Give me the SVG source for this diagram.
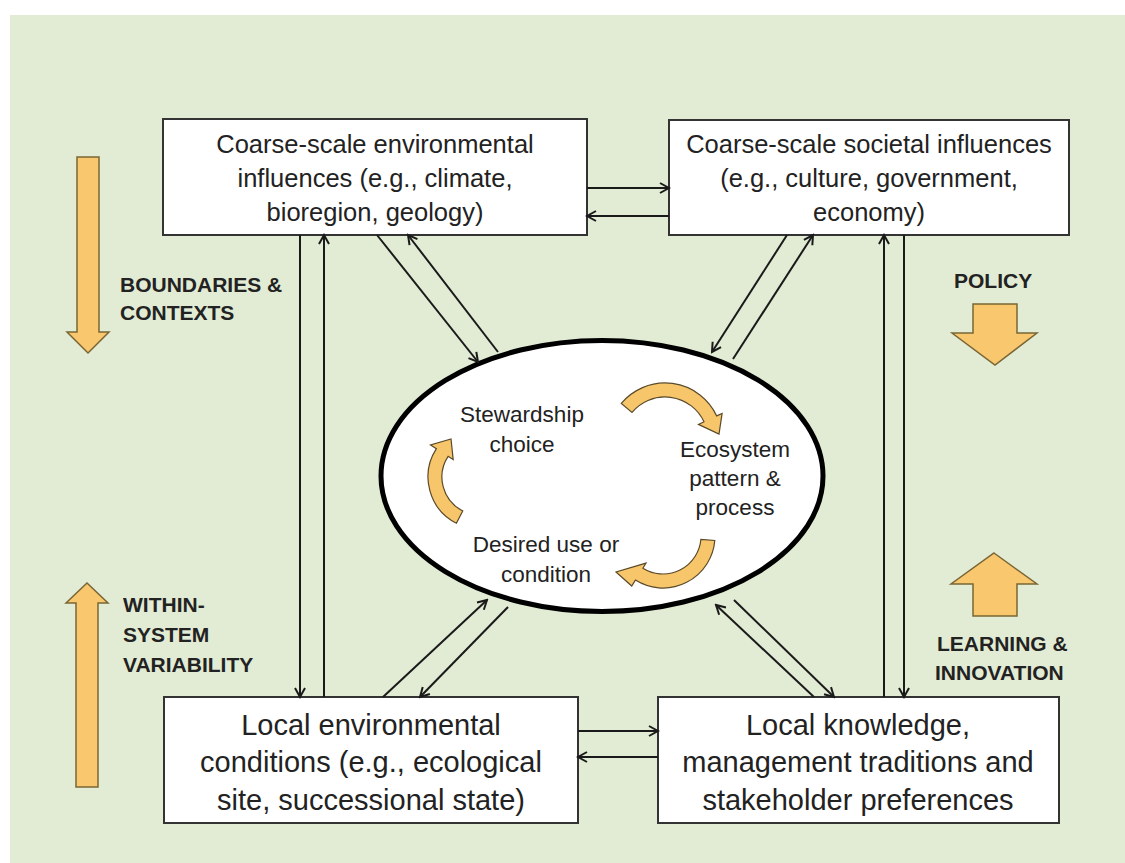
<svg xmlns="http://www.w3.org/2000/svg" width="1125" height="863" viewBox="0 0 1125 863">
<defs>
<marker id="ah" viewBox="-11 -7 13 14" refX="0" refY="0" markerWidth="13" markerHeight="14" markerUnits="userSpaceOnUse" orient="auto">
<path d="M-9,-5 L0,0 L-9,5" fill="none" stroke="#1a1a1a" stroke-width="2"/>
</marker>
<style>
.box{fill:#fff;stroke:#333;stroke-width:2}
.t{font-family:"Liberation Sans",Arial,sans-serif;fill:#222;text-anchor:middle}
.t1{font-size:25.5px}
.t2{font-size:29px}
.t3{font-size:22.5px}
.lb{font-family:"Liberation Sans",Arial,sans-serif;font-weight:bold;font-size:21px;fill:#222}
.big{fill:#f9c86e;stroke:#7a6535;stroke-width:1.5;stroke-linejoin:miter}
.cyc{fill:#f7c66a;stroke:#5a4a2a;stroke-width:1.2}
.c line{stroke:#1a1a1a;stroke-width:2;marker-end:url(#ah)}
</style>
</defs>
<rect x="0" y="0" width="1125" height="863" fill="#ffffff"/>
<rect x="10" y="15" width="1115" height="848" fill="#e2ecd4"/>

<g id="big-arrows">
<polygon class="big" points="77,157 99,157 99,332 109,332 88,353 67,332 77,332"/>
<polygon class="big" points="87,583 108,603 98,603 98,787 76,787 76,603 66,603"/>
<polygon class="big" points="973,304 1017,304 1017,333 1037,333 995,365 952,333 973,333"/>
<polygon class="big" points="994,553 1037,584 1017,584 1017,616 973,616 973,584 951,584"/>
</g>

<g id="labels">
<text class="lb" x="120" y="292">BOUNDARIES &amp;</text>
<text class="lb" x="120" y="320">CONTEXTS</text>
<text class="lb" x="954" y="288">POLICY</text>
<text class="lb" x="123" y="612">WITHIN-</text>
<text class="lb" x="123" y="642">SYSTEM</text>
<text class="lb" x="123" y="672">VARIABILITY</text>
<text class="lb" x="937" y="651">LEARNING &amp;</text>
<text class="lb" x="935" y="680">INNOVATION</text>
</g>

<g id="coarse-env">
<rect class="box" x="163" y="119" width="424" height="116"/>
<text class="t t1" x="375" y="153">Coarse-scale environmental</text>
<text class="t t1" x="375" y="187">influences (e.g., climate,</text>
<text class="t t1" x="375" y="221">bioregion, geology)</text>
</g>

<g id="coarse-soc">
<rect class="box" x="669" y="120" width="400" height="115"/>
<text class="t t1" x="869" y="153">Coarse-scale societal influences</text>
<text class="t t1" x="869" y="187">(e.g., culture, government,</text>
<text class="t t1" x="869" y="221">economy)</text>
</g>

<g id="local-env">
<rect class="box" x="164" y="697" width="414" height="126"/>
<text class="t t2" x="371" y="735">Local environmental</text>
<text class="t t2" x="371" y="772">conditions (e.g., ecological</text>
<text class="t t2" x="371" y="810">site, successional state)</text>
</g>

<g id="local-know">
<rect class="box" x="658" y="697" width="401" height="126"/>
<text class="t t2" x="858" y="735">Local knowledge,</text>
<text class="t t2" x="858" y="772">management traditions and</text>
<text class="t t2" x="858" y="810">stakeholder preferences</text>
</g>

<g id="cycle">
<ellipse cx="602" cy="476" rx="221" ry="135.5" fill="#fff" stroke="#000" stroke-width="5"/>
<path class="cyc" d="M621.3,403.4 A57,57 0 0 1 716.7,415.9 L722.1,413.4 L719,434 L698.5,424.4 L704,421.8 A43,43 0 0 0 632,412.4 Z"/>
<path class="cyc" d="M456.4,523.3 A52,52 0 0 1 436.4,448.7 L430.5,444.9 L451,439 L453.2,459.6 L448.1,456.3 A38,38 0 0 0 462.7,510.9 Z"/>
<path class="cyc" d="M714.8,540.5 A52,52 0 0 1 635.4,580.1 L631.7,586 L616,572 L646,563.1 L642.9,568.2 A38,38 0 0 0 700.9,539.3 Z"/>
<text class="t t3" x="522" y="422">Stewardship</text>
<text class="t t3" x="522" y="452">choice</text>
<text class="t t3" x="735" y="457">Ecosystem</text>
<text class="t t3" x="735" y="486">pattern &amp;</text>
<text class="t t3" x="735" y="515">process</text>
<text class="t t3" x="546" y="552">Desired use or</text>
<text class="t t3" x="546" y="582">condition</text>
</g>

<g id="connectors" class="c">
<line x1="587" y1="188" x2="669" y2="188"/>
<line x1="669" y1="216" x2="587" y2="216"/>
<line x1="578" y1="731" x2="658" y2="731"/>
<line x1="658" y1="757" x2="578" y2="757"/>
<line x1="300" y1="235" x2="300" y2="697"/>
<line x1="324" y1="697" x2="324" y2="235"/>
<line x1="904" y1="235" x2="904" y2="697"/>
<line x1="884" y1="697" x2="884" y2="235"/>
<line x1="377" y1="235" x2="478" y2="362"/>
<line x1="498" y1="352" x2="408" y2="235"/>
<line x1="787" y1="235" x2="712" y2="352"/>
<line x1="733" y1="359" x2="813" y2="235"/>
<line x1="383" y1="697" x2="487" y2="600"/>
<line x1="508" y1="607" x2="420" y2="697"/>
<line x1="814" y1="697" x2="716" y2="605"/>
<line x1="734" y1="600" x2="834" y2="697"/>
</g>
</svg>
